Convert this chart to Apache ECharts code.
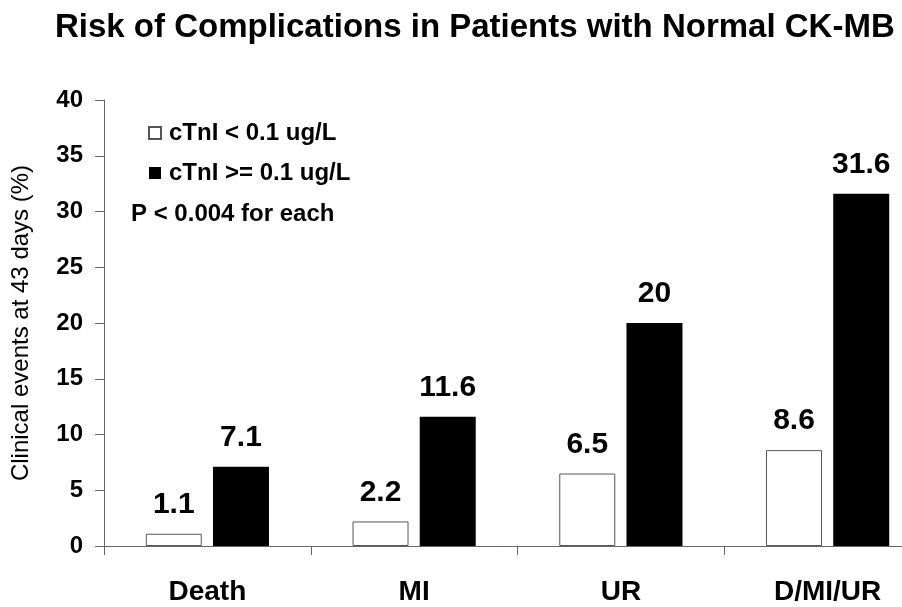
<!DOCTYPE html>
<html>
<head>
<meta charset="utf-8">
<script src="https://cdn.jsdelivr.net/npm/echarts@6/dist/echarts.min.js"></script>
<style>
  html, body { margin: 0; padding: 0; background: #fff; }
  #chart { width: 902px; height: 607px; }
</style>
</head>
<body>
<div id="chart"></div>
<script>
// data
var categories = ['Death', 'MI', 'UR', 'D/MI/UR'];
var lowTnI = [1.1, 2.2, 6.5, 8.6];      // cTnI < 0.1 ug/L
var highTnI = [7.1, 11.6, 20, 31.6];    // cTnI >= 0.1 ug/L
var seriesNames = ['cTnI < 0.1 ug/L', 'cTnI >= 0.1 ug/L'];
var noteText = 'P < 0.004 for each';

var font = '"Liberation Sans", Arial, Helvetica, sans-serif';

var chart = echarts.init(document.getElementById('chart'));

var labelStyle = {
  show: true,
  position: 'top',
  distance: 14,
  color: '#000',
  fontFamily: font,
  fontWeight: 'bold',
  fontSize: 30
};

var option = {
  animation: false,
  backgroundColor: '#fff',
  title: {
    text: 'Risk of Complications in Patients with Normal CK-MB',
    left: 50,
    top: 6,
    textStyle: { fontFamily: font, fontWeight: 'bold', fontSize: 33, color: '#000' }
  },
  legend: {
    data: seriesNames,
    orient: 'vertical',
    left: 143,
    top: 116,
    icon: 'rect',
    itemWidth: 12,
    itemHeight: 12,
    itemGap: 16,
    textStyle: { fontFamily: font, fontWeight: 'bold', fontSize: 24, color: '#000', padding: [0, 0, 0, 3] }
  },
  graphic: [{
    type: 'text',
    left: 131,
    top: 202,
    style: { text: noteText, font: 'bold 24px ' + font, fill: '#000' }
  }],
  grid: { left: 104, top: 100, right: -29, bottom: 61, containLabel: false, outerBoundsMode: 'none' },
  xAxis: {
    type: 'category',
    data: categories,
    axisLine: { lineStyle: { color: '#666', width: 1 } },
    axisTick: { show: true, length: 9, lineStyle: { color: '#666' } },
    axisLabel: { margin: 32, color: '#000', fontFamily: font, fontWeight: 'bold', fontSize: 28 }
  },
  yAxis: {
    type: 'value',
    min: 0,
    max: 40,
    interval: 5,
    name: 'Clinical events at 43 days (%)',
    nameLocation: 'middle',
    nameGap: 71,
    nameTextStyle: { fontFamily: font, fontSize: 24, color: '#000' },
    axisLine: { show: true, lineStyle: { color: '#666', width: 1 } },
    axisTick: { show: true, length: 9, lineStyle: { color: '#666' } },
    splitLine: { show: false },
    axisLabel: { margin: 21, color: '#000', fontFamily: font, fontWeight: 'bold', fontSize: 24 }
  },
  series: [
    {
      name: seriesNames[0],
      type: 'bar',
      data: lowTnI,
      barWidth: 56,
      barGap: '20%',
      itemStyle: { color: '#fff', borderColor: '#555', borderWidth: 1 },
      label: labelStyle
    },
    {
      name: seriesNames[1],
      type: 'bar',
      data: highTnI,
      barWidth: 56,
      itemStyle: { color: '#000' },
      label: labelStyle
    }
  ]
};

chart.setOption(option);
</script>
</body>
</html>
